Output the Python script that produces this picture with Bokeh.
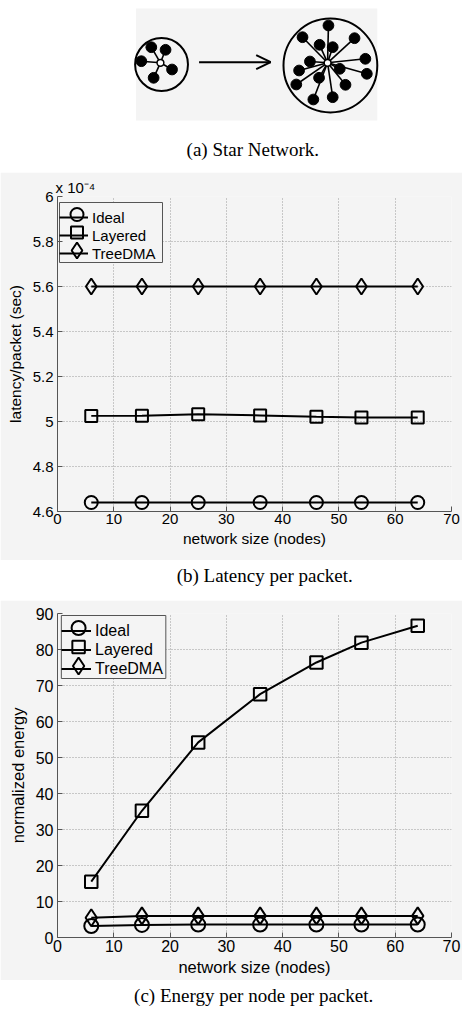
from bokeh.plotting import figure
from bokeh.layouts import column
from bokeh.models import Range1d, FixedTicker, Legend, LegendItem, Title, CustomJSTickFormatter
from bokeh.core.properties import value
from bokeh.embed import file_html
from bokeh.resources import INLINE

# ---------------- data ----------------
network_size = [6, 15, 25, 36, 46, 54, 64]
series_names = ["Ideal", "Layered", "TreeDMA"]
series_markers = ["circle", "square", "diamond"]

# latency per packet, in units of 1e-4 s
latency_ideal = [4.64, 4.64, 4.64, 4.64, 4.64, 4.64, 4.64]
latency_layered = [5.025, 5.026, 5.032, 5.027, 5.021, 5.018, 5.018]
latency_treedma = [5.60, 5.60, 5.60, 5.60, 5.60, 5.60, 5.60]

# normalized energy per node per packet
energy_ideal = [3.2, 3.5, 3.6, 3.6, 3.6, 3.6, 3.6]
energy_layered = [15.5, 35.2, 54.2, 67.6, 76.4, 81.9, 86.6]
energy_treedma = [5.5, 6.0, 6.0, 6.0, 6.0, 6.0, 6.0]

x_ticks = [0, 10, 20, 30, 40, 50, 60, 70]
latency_ticks = [4.6, 4.8, 5.0, 5.2, 5.4, 5.6, 5.8, 6.0]
energy_ticks = [0, 10, 20, 30, 40, 50, 60, 70, 80, 90]

# star network illustration (pixel coordinates of the drawing)
small_ring = (122, 64, 31)
small_hub = (120.7, 62.3)
small_nodes_x = [110, 126.7, 98.3, 134.3, 112.7]
small_nodes_y = [46.7, 49.3, 60.7, 69, 77.3]
big_ring = (320, 65, 55)
big_hub = (316.7, 62.3)
big_nodes_x = [317.7, 287.3, 348.3, 307.3, 322.7, 361, 296, 331, 283.3, 362.7, 306.7, 280, 337.7, 300, 322.7]
big_nodes_y = [25, 36.7, 37.7, 44.3, 46.7, 58.3, 61, 68.3, 70, 73.3, 77.3, 84, 84.3, 99, 96.7]

W = 462
BG = "#f4f4f4"
SANS = "Liberation Sans"
SERIF = "Liberation Serif"


def bare(height, yr):
    p = figure(width=W, height=height, x_range=Range1d(0, W), y_range=Range1d(*yr),
               output_backend="svg", toolbar_location=None, min_border=0,
               outline_line_color=None, background_fill_color="white",
               border_fill_color="white")
    p.axis.visible = False
    p.grid.visible = False
    return p


# ---------------- (a) star network ----------------
pa = bare(135, (135, 0))
pa.quad(left=[92], right=[375], top=[8], bottom=[120], fill_color=BG, line_color=None)
for ring, hub, nx, ny in [(small_ring, small_hub, small_nodes_x, small_nodes_y),
                          (big_ring, big_hub, big_nodes_x, big_nodes_y)]:
    pa.circle(x=[ring[0]], y=[ring[1]], radius=ring[2], fill_color=None,
              line_color="black", line_width=2)
    pa.segment(x0=[hub[0]] * len(nx), y0=[hub[1]] * len(nx), x1=nx, y1=ny,
               line_color="black", line_width=1.6)
    pa.circle(x=nx, y=ny, radius=6.3, fill_color="black", line_color="black")
    pa.circle(x=[hub[0]], y=[hub[1]], radius=4, fill_color="white",
              line_color="black", line_width=1.5)
arrow_y = 61.7
pa.segment(x0=[166], y0=[arrow_y], x1=[250], y1=[arrow_y], line_color="black", line_width=2)
pa.segment(x0=[233, 233], y0=[arrow_y - 7, arrow_y + 7], x1=[250, 250], y1=[arrow_y, arrow_y],
           line_color="black", line_width=2)


def caption(height, text, cx, cy):
    p = bare(height, (height, 0))
    p.text(x=[cx], y=[cy], text=[text], text_font=value(SERIF), text_font_size="19px",
           text_align="center", text_baseline="middle", text_color="black")
    return p


cap_a = caption(37, "(a) Star Network.", 229, 14)


def make_plot(height, borders, yr, yticks, ylabel, ys, fmt, fs, sizes, leg_box, leg_h, glyph_w):
    left, right, top, bottom = borders
    frame_w = W - left - right
    frame_h = height - top - bottom
    p = figure(width=W, height=height, x_range=Range1d(0, 70), y_range=Range1d(*yr),
               output_backend="svg", toolbar_location=None,
               min_border_left=left, min_border_right=right,
               min_border_top=top, min_border_bottom=bottom,
               background_fill_color=BG, border_fill_color=BG, outline_line_color=None)
    p.xaxis.ticker = FixedTicker(ticks=x_ticks)
    p.yaxis.ticker = FixedTicker(ticks=yticks)
    if fmt is not None:
        p.yaxis.formatter = fmt
    p.xaxis.axis_label = "network size (nodes)"
    p.yaxis.axis_label = ylabel
    for ax in p.axis:
        ax.axis_line_color = "#555555"
        ax.axis_line_width = 1
        ax.major_tick_in = 5
        ax.major_tick_out = 0
        ax.major_tick_line_color = "#555555"
        ax.minor_tick_line_color = None
        ax.major_label_text_font = SANS
        ax.major_label_text_font_size = "%spx" % fs[0]
        ax.major_label_text_color = "black"
        ax.axis_label_text_font = SANS
        ax.axis_label_text_font_size = "%spx" % fs[1]
        ax.axis_label_text_font_style = "normal"
        ax.axis_label_text_color = "black"
    p.xaxis.major_label_standoff = 2
    p.xaxis.axis_label_standoff = 3
    p.yaxis.major_label_standoff = 4
    p.yaxis.axis_label_standoff = 6
    p.grid.grid_line_color = "#9a9a9a"
    p.grid.grid_line_dash = "1 2"
    p.grid.grid_line_width = 1

    # legend box (screen px from frame top-left): x0, y0, width
    bx, by, bw = leg_box
    pad = 3
    bh = 3 * leg_h + 2 * pad
    sx = 70.0 / frame_w
    sy = (yr[1] - yr[0]) / frame_h
    p.quad(left=[bx * sx], right=[(bx + bw) * sx], top=[yr[1] - by * sy],
           bottom=[yr[1] - (by + bh) * sy], fill_color=BG, line_color="#555555", line_width=1)

    items = []
    gx = (bx + pad + glyph_w / 2.0) * sx
    for i, (name, mk, yv, sz) in enumerate(zip(series_names, series_markers, ys, sizes)):
        rl = p.line(x=network_size, y=yv, line_color="black", line_width=2)
        p.scatter(x=network_size, y=yv, marker=mk, size=sz, fill_color=None,
                  line_color="black", line_width=2)
        items.append(LegendItem(label=name, renderers=[rl]))
        gy = yr[1] - (by + pad + leg_h * (i + 0.5)) * sy
        p.scatter(x=[gx], y=[gy], marker=mk, size=sz, fill_color=None,
                  line_color="black", line_width=2)
    leg = Legend(items=items, location=(bx, frame_h - by - bh))
    leg.label_text_font = SANS
    leg.label_text_font_size = "%spx" % fs[2]
    leg.label_text_color = "black"
    leg.glyph_width = glyph_w
    leg.glyph_height = leg_h
    leg.label_height = leg_h
    leg.spacing = 0
    leg.padding = pad
    leg.margin = 0
    leg.label_standoff = 4
    leg.border_line_color = None
    leg.background_fill_alpha = 0
    p.add_layout(leg)
    return p


lat_fmt = CustomJSTickFormatter(code="return (Math.round(tick*10)/10).toString();")
pb = make_plot(388, (57, 11, 24, 49), (4.6, 6.0), latency_ticks, "latency/packet (sec)",
               [latency_ideal, latency_layered, latency_treedma], lat_fmt,
               (15, 15.5, 15), (13, 12, 16), (2, 6, 103), 18, 29)
pb.add_layout(Title(text="x 10\u207b\u2074", align="left", offset=-2, standoff=1,
                    text_font=SANS, text_font_size="15px", text_font_style="normal",
                    text_color="black"), "above")

cap_b = caption(40, "(b) Latency per packet.", 243, 15)

pc = make_plot(380, (47, 4, 13, 43), (0, 90), energy_ticks, "normalized energy",
               [energy_ideal, energy_layered, energy_treedma], None,
               (16, 16.5, 16), (14, 12.5, 17), (4, 2, 109), 19, 30)

cap_c = caption(35, "(c) Energy per node per packet.", 230, 15)

layout = column(pa, cap_a, pb, cap_b, pc, cap_c, spacing=0)
open("out.html", "w").write(file_html(layout, INLINE))
